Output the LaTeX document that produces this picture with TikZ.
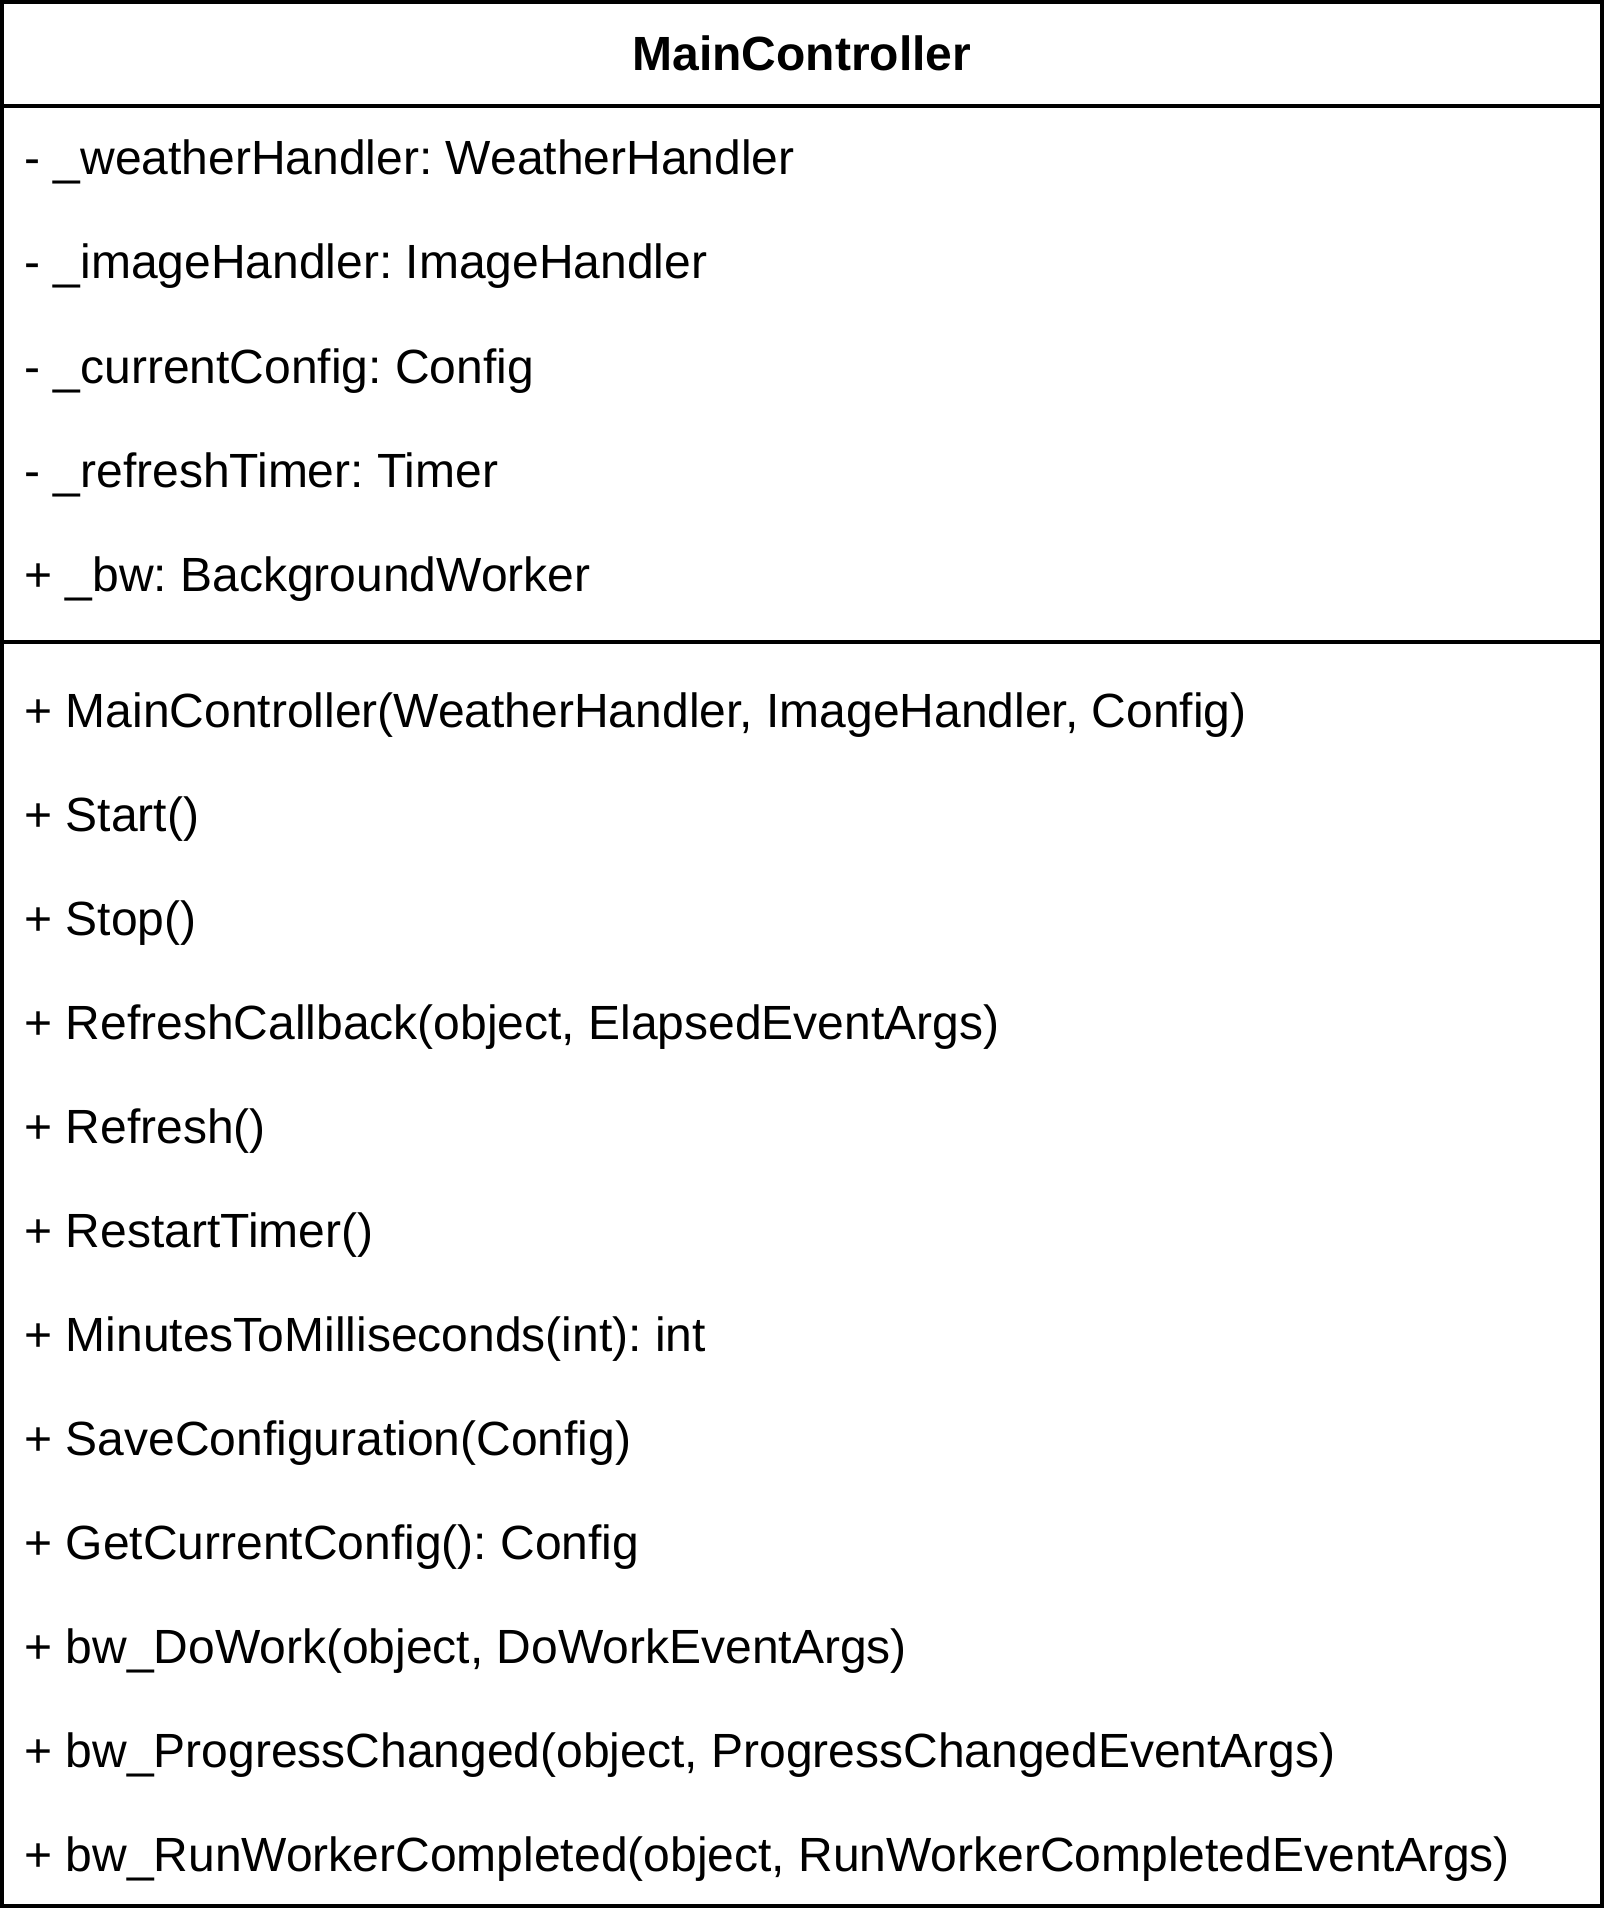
\documentclass[tikz,border=0pt]{standalone}
\usepackage{fontspec}
\setmainfont{Liberation Sans}
\frenchspacing
\begin{document}
\begin{tikzpicture}[x=0.5pt,y=-0.5pt,
  member/.style={anchor=base west,inner sep=0pt,font=\fontsize{24pt}{28pt}\selectfont\frenchspacing},
  title/.style={anchor=base,inner sep=0pt,font=\fontsize{24pt}{28pt}\selectfont\bfseries},
  frame/.style={line width=2pt,draw=black}]
\useasboundingbox (0,0) rectangle (1604,1920);
\fill[white] (0,0) rectangle (1604,1920);
\coordinate (tl) at (2,2);
\coordinate (br) at (1601.5,1906);
\draw[frame] (tl) rectangle (br);
\coordinate (h1) at (2,106);
\coordinate (h2) at (1601.5,106);
\draw[frame] (h1) -- (h2);
\coordinate (s1) at (2,642);
\coordinate (s2) at (1601.5,642);
\draw[frame] (s1) -- (s2);
\node[title] (t) at (801.75,71) {MainController};
\node[member] (a1) at (24,175) {- \_weatherHandler: WeatherHandler};
\node[member] (a2) at (24,279) {- \_imageHandler: ImageHandler};
\node[member] (a3) at (24,383) {- \_currentConfig: Config};
\node[member] (a4) at (24,487) {- \_refreshTimer: Timer};
\node[member] (a5) at (24,591) {+ \_bw: BackgroundWorker};
\node[member] (m1) at (24,727) {+ MainController(WeatherHandler, ImageHandler, Config)};
\node[member] (m2) at (24,831) {+ Start()};
\node[member] (m3) at (24,935) {+ Stop()};
\node[member] (m4) at (24,1039) {+ RefreshCallback(object, ElapsedEventArgs)};
\node[member] (m5) at (24,1143) {+ Refresh()};
\node[member] (m6) at (24,1247) {+ RestartTimer()};
\node[member] (m7) at (24,1351) {+ MinutesToMilliseconds(int): int};
\node[member] (m8) at (24,1455) {+ SaveConfiguration(Config)};
\node[member] (m9) at (24,1559) {+ GetCurrentConfig(): Config};
\node[member] (m10) at (24,1663) {+ bw\_DoWork(object, DoWorkEventArgs)};
\node[member] (m11) at (24,1767) {+ bw\_ProgressChanged(object, ProgressChangedEventArgs)};
\node[member] (m12) at (24,1871) {+ bw\_RunWorkerCompleted(object, RunWorkerCompletedEventArgs)};
\end{tikzpicture}
\end{document}
